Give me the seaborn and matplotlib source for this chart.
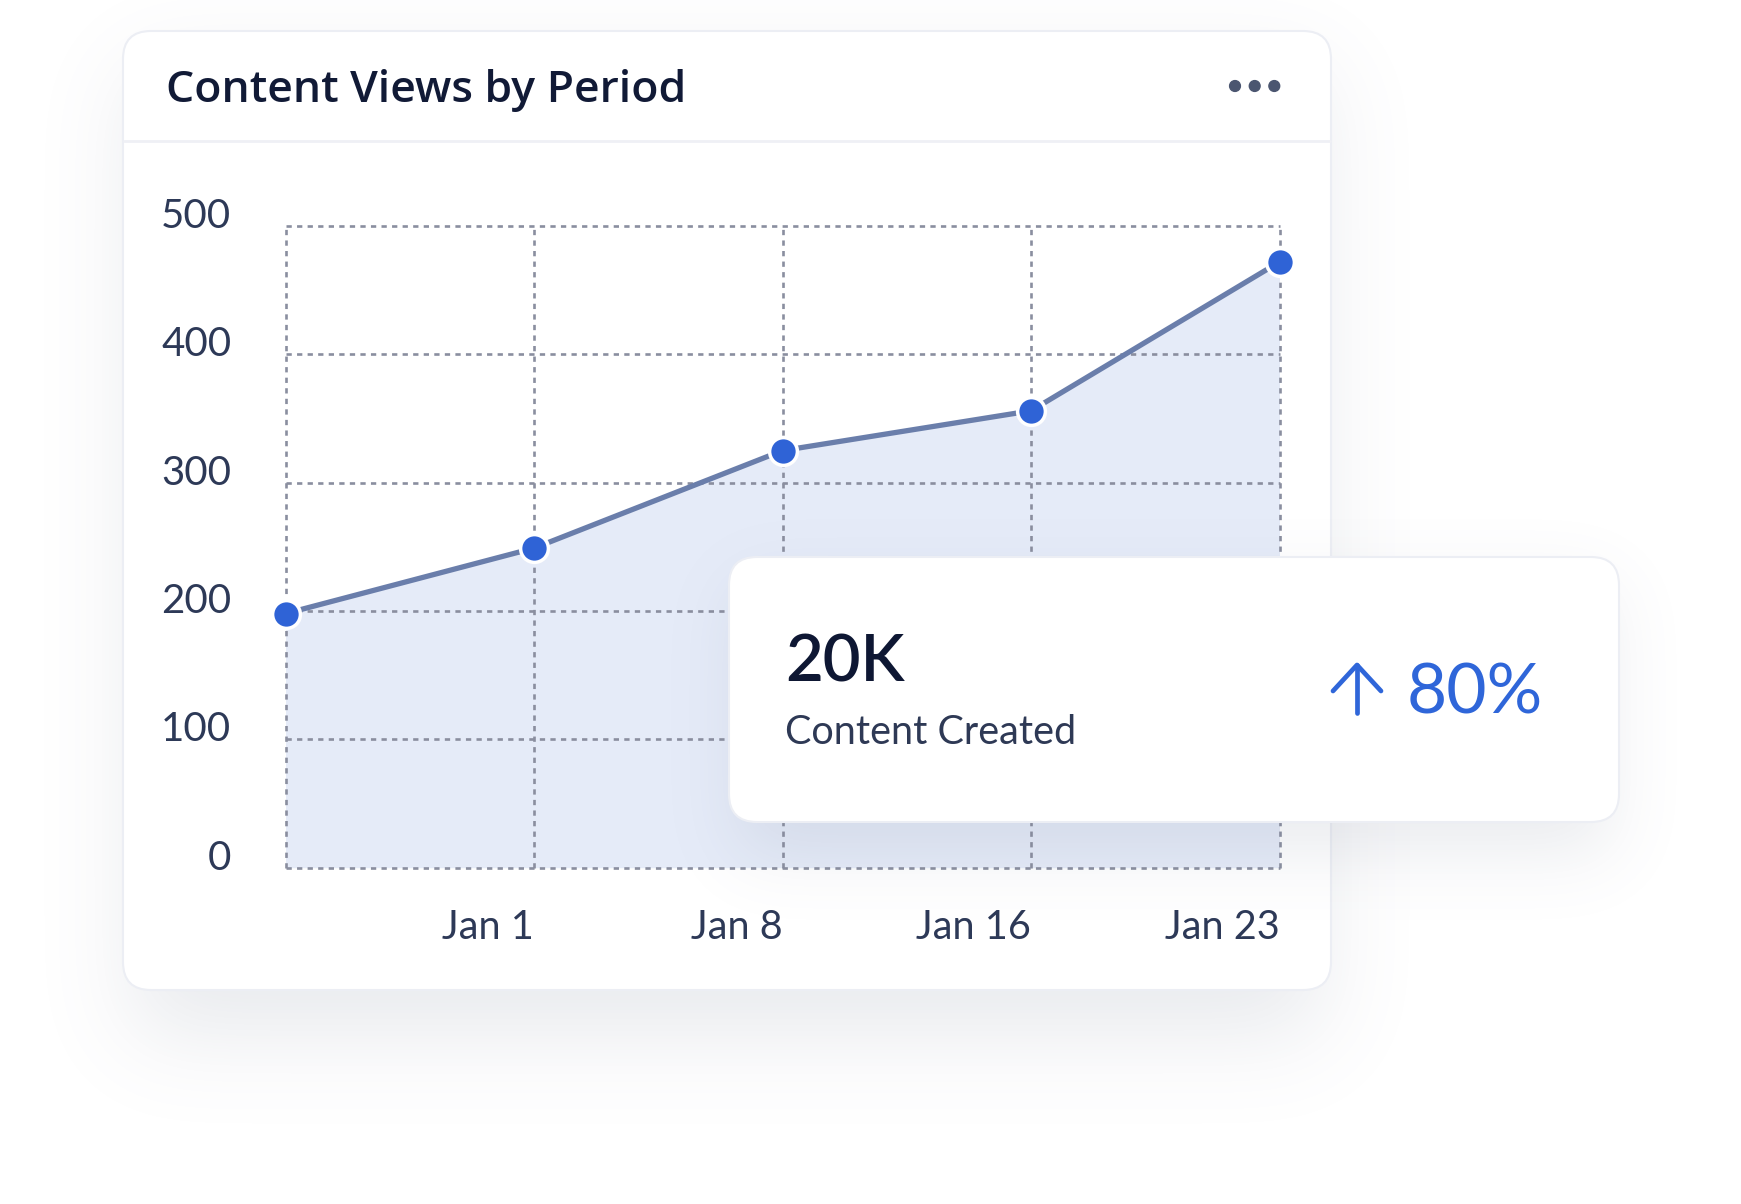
import numpy as np
import pandas as pd
import matplotlib
matplotlib.use("Agg")
import matplotlib.pyplot as plt
import matplotlib.transforms as mtransforms
from matplotlib.patches import FancyBboxPatch, Circle
from math import erf
import seaborn as sns

# data
x_pos = [0, 1, 2, 3, 4]
tick_labels = ["", "Jan 1", "Jan 8", "Jan 16", "Jan 23"]
views = [198, 249, 325, 356, 472]
y_ticks = [0, 100, 200, 300, 400, 500]

title = "Content Views by Period"
stat_value = "20K"
stat_label = "Content Created"
stat_change = "80%"

df = pd.DataFrame({"pos": x_pos, "views": views})

# style
sns.set_theme(style="white")
plt.rcParams["font.family"] = ["Lato", "DejaVu Sans"]

W, H = 1741, 1204
DPI = 100
fig = plt.figure(figsize=(W / DPI, H / DPI), dpi=DPI)
fig.patch.set_facecolor("white")

verf = np.vectorize(erf)


def soft_box(x0, y0, x1, y1, s):
    # blurred rectangle mask for drop shadows
    xs = np.arange(W) + 0.5
    ys = np.arange(H) + 0.5
    k = s * np.sqrt(2)
    fx = 0.5 * (verf((xs - x0) / k) - verf((xs - x1) / k))
    fy = 0.5 * (verf((ys - y0) / k) - verf((ys - y1) / k))
    return np.outer(fy, fx)


def shadow_image(mask, amax, rgb=(0.45, 0.49, 0.58)):
    img = np.zeros((H, W, 4))
    img[..., 0], img[..., 1], img[..., 2] = rgb
    img[..., 3] = np.clip(mask * amax, 0, 1)
    return img


def pixel_axes(z):
    a = fig.add_axes([0, 0, 1, 1], zorder=z)
    a.set_xlim(0, W)
    a.set_ylim(H, 0)
    a.axis("off")
    a.patch.set_alpha(0)
    return a


# background: main card with shadow
bg = pixel_axes(0)
card = (123, 31, 1331, 990)
bg.imshow(shadow_image(soft_box(card[0] + 10, card[1] + 40, card[2] - 10, card[3] + 45, 45), 0.16),
          extent=(0, W, H, 0), interpolation="bilinear")
bg.add_patch(FancyBboxPatch((card[0], card[1]), card[2] - card[0], card[3] - card[1],
                            boxstyle="round,pad=0,rounding_size=28",
                            facecolor="white", edgecolor="#eceef4", lw=1.5))
bg.plot([card[0] + 1, card[2] - 1], [141, 141], color="#eff0f5", lw=2)
bg.text(166, 101.5, title, fontsize=32, fontweight="semibold",
        family=["Open Sans", "DejaVu Sans"],
        color="#111a36", va="baseline", ha="left")
for cx in [1235, 1254.7, 1274.3]:
    bg.add_patch(Circle((cx, 86), 5.4, color="#4b5670"))
bg.set_xlim(0, W)
bg.set_ylim(H, 0)

# chart
ax = fig.add_axes([285.5 / W, (H - 867.7) / H, 994 / W, (867.7 - 226) / H], zorder=1)
ax.patch.set_alpha(0)
ax.fill_between(df["pos"], df["views"], 0, color="#e5ebf8", lw=0, zorder=1)
sns.lineplot(data=df, x="pos", y="views", ax=ax, color="#6a7eab", lw=3.8,
             marker="o", markersize=20, markerfacecolor="#2f63d6",
             markeredgecolor="white", markeredgewidth=2.5, zorder=3, clip_on=False)

ax.set_xlim(0, 4)
ax.set_ylim(0, 500)
ax.set_xticks(x_pos)
ax.set_xticklabels(tick_labels, ha="right")
ax.set_yticks(y_ticks)
ax.set_yticklabels([str(v) for v in y_ticks])
ax.set_xlabel("")
ax.set_ylabel("")
for s in ax.spines.values():
    s.set_visible(False)
ax.grid(True, color="#8a8e9f", lw=1.9, linestyle=(0, (2, 2)))
for gl in ax.get_xgridlines() + ax.get_ygridlines():
    gl.set_clip_on(False)
    gl.set_zorder(2)
ax.set_axisbelow(False)
ax.tick_params(axis="both", length=0, colors="#2d3957")
ax.tick_params(axis="y", labelsize=29, pad=39)
ax.tick_params(axis="x", labelsize=28.5, pad=30)
up = mtransforms.ScaledTranslation(0, 13 / DPI, fig.dpi_scale_trans)
for lab in ax.get_yticklabels():
    lab.set_transform(lab.get_transform() + up)

# floating stat card
top = pixel_axes(2)
stat = (729, 557, 1619, 822)
top.imshow(shadow_image(soft_box(stat[0] + 10, stat[1] + 30, stat[2] - 10, stat[3] + 30, 35), 0.15),
           extent=(0, W, H, 0), interpolation="bilinear")
top.add_patch(FancyBboxPatch((stat[0], stat[1]), stat[2] - stat[0], stat[3] - stat[1],
                             boxstyle="round,pad=0,rounding_size=28",
                             facecolor="white", edgecolor="#eceef4", lw=1.5))
top.text(785, 682, stat_value, fontsize=47, fontweight="semibold",
         color="#0e1733", va="baseline", ha="left")
top.text(785, 744, stat_label, fontsize=28.5, color="#2e3955",
         va="baseline", ha="left")
blue = "#2f66d9"
top.plot([1357, 1357], [665, 713], color=blue, lw=3.4, solid_capstyle="round")
top.plot([1333, 1357, 1381], [691, 665, 691], color=blue, lw=3.4,
         solid_capstyle="round", solid_joinstyle="round")
top.text(1407, 713, stat_change, fontsize=50, color=blue,
         va="baseline", ha="left")
top.set_xlim(0, W)
top.set_ylim(H, 0)

plt.savefig("out.png", dpi=DPI, facecolor="white")
plt.close(fig)
